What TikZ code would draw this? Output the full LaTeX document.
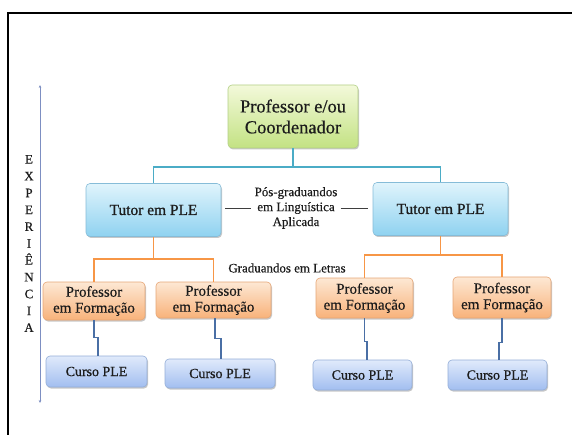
\documentclass[tikz,border=0pt]{standalone}
\usepackage{fontspec}
\setmainfont{Liberation Serif}
\newfontfamily\boxfont{Liberation Serif}[FakeBold=0.45]
\newfontfamily\heavyfont{Liberation Serif}[FakeBold=0.9]
\usetikzlibrary{shadows,arrows.meta}
\definecolor{txt}{HTML}{1C1C1C}
\definecolor{grT}{HTML}{F3F9DA}
\definecolor{grD}{HTML}{C3E283}
\definecolor{grB}{HTML}{B2CF86}
\definecolor{tuT}{HTML}{E0F4FC}
\definecolor{tuD}{HTML}{8FD2F0}
\definecolor{tuB}{HTML}{86BCD8}
\definecolor{pfT}{HTML}{FDE8D4}
\definecolor{pfD}{HTML}{F8B27A}
\definecolor{pfB}{HTML}{E6A676}
\definecolor{cuT}{HTML}{E0EAFB}
\definecolor{cuD}{HTML}{A2BEF0}
\definecolor{cuB}{HTML}{94AED8}
\definecolor{tealline}{HTML}{4BACC6}
\definecolor{orangeline}{HTML}{F79646}
\definecolor{steelline}{HTML}{4A6FA5}
\definecolor{axiscol}{HTML}{7D8FC2}
\begin{document}
\begin{tikzpicture}[x=1bp,y=-1bp,
  box/.style={draw, rounded corners=4bp, inner sep=0pt, align=center, text=txt, line width=0.6bp,
    drop shadow={shadow xshift=1bp,shadow yshift=-1.5bp,opacity=0.22,fill=black}},
  greenbox/.style={box, draw=grB, top color=grT, bottom color=grD},
  tutorbox/.style={box, draw=tuB, top color=tuT, bottom color=tuD, minimum width=135bp, minimum height=53bp,
    font=\heavyfont\fontsize{15.5}{18}\selectfont},
  pfbox/.style={box, draw=pfB, top color=pfT, bottom color=pfD, font=\boxfont\fontsize{15}{16}\selectfont},
  cursobox/.style={box, draw=cuB, top color=cuT, bottom color=cuD, font=\heavyfont\fontsize{14}{16}\selectfont},
  tealconn/.style={draw=tealline, line width=1.6bp},
  orangeconn/.style={draw=orangeline, line width=1.6bp},
  steelconn/.style={draw=steelline, line width=1.6bp},
  smalltext/.style={text=txt, align=center, font=\boxfont\fontsize{13}{15}\selectfont},
]
\useasboundingbox (0,0) rectangle (572,435);
% frame
\draw[line width=1.3bp, black] (8,436) -- (8,13) -- (573,13);

% axis
\coordinate (axT) at (40,85);
\coordinate (axB) at (40,403);
\draw[draw=axiscol, line width=0.8bp, {Stealth[length=3bp,width=2.6bp]}-{Stealth[length=3bp,width=2.6bp]}] (axT) -- (axB);
\node[text=txt, align=center, inner sep=0pt, font=\boxfont\fontsize{13}{16.9}\selectfont] (exp) at (29,243.5)
  {E\\X\\P\\E\\R\\I\\Ê\\N\\C\\I\\A};

% nodes
\node[greenbox, minimum width=130bp, minimum height=63bp, font=\boxfont\fontsize{18.5}{21}\selectfont] (top) at (293,116.5)
  {Professor e/ou\\Coordenador};
\node[tutorbox] (tutL) at (153.5,210) {Tutor em PLE};
\node[tutorbox] (tutR) at (440.5,209) {Tutor em PLE};

\node[pfbox, minimum width=102bp, minimum height=38bp] (pf1) at (94,301) {Professor\\em Formação};
\node[pfbox, minimum width=115bp, minimum height=36bp] (pf2) at (213.5,300) {Professor\\em Formação};
\node[pfbox, minimum width=97bp, minimum height=40bp] (pf3) at (364.5,298) {Professor\\em Formação};
\node[pfbox, minimum width=98bp, minimum height=41bp] (pf4) at (502,297.5) {Professor\\em Formação};

\node[cursobox, minimum width=101bp, minimum height=31bp] (c1) at (96.5,371.5) {Curso PLE};
\node[cursobox, minimum width=110bp, minimum height=29bp] (c2) at (220,373.5) {Curso PLE};
\node[cursobox, minimum width=99bp, minimum height=30bp] (c3) at (362.5,375) {Curso PLE};
\node[cursobox, minimum width=99bp, minimum height=30bp] (c4) at (497.5,375) {Curso PLE};

\node[smalltext, inner sep=3bp] (pos) at (296,208) {Pós-graduandos\\em Linguística\\Aplicada};
\node[smalltext, inner sep=0pt] (grad) at (287,268) {Graduandos em Letras};

% teal connectors
\coordinate (j1) at (293,167);
\draw[tealconn] (top.south) -- (j1);
\draw[tealconn] (tutL.north) |- (j1) -| (tutR.north);

% orange connectors
\coordinate (j2) at (153.5,259);
\draw[orangeconn] (tutL.south) -- (j2);
\draw[orangeconn] (pf1.north) |- (j2) -| (pf2.north);
\coordinate (j3) at (440.5,255);
\draw[orangeconn] (tutR.south) -- (j3);
\draw[orangeconn] (pf3.north) |- (j3) -| (pf4.north);

% dashes beside middle text
\draw[draw=txt!85, line width=0.8bp] ([xshift=4bp]pos.west -| tutL.east) -- (pos.west);
\draw[draw=txt!85, line width=0.8bp] (pos.east) -- ([xshift=-5bp]pos.east -| tutR.west);

% elbow connectors to courses
\draw[steelconn] (pf1.south) -- ++(0,17) -| ([xshift=1.5bp]c1.north);
\draw[steelconn] ([xshift=1.5bp]pf2.south) -- ++(0,20) -| ([xshift=1bp]c2.north);
\draw[steelconn] (pf3.south) -- ++(0,23) -| ([xshift=4.5bp]c3.north);
\draw[steelconn] (pf4.south) -- ++(0,24) -| ([xshift=1.5bp]c4.north);
\end{tikzpicture}
\end{document}
